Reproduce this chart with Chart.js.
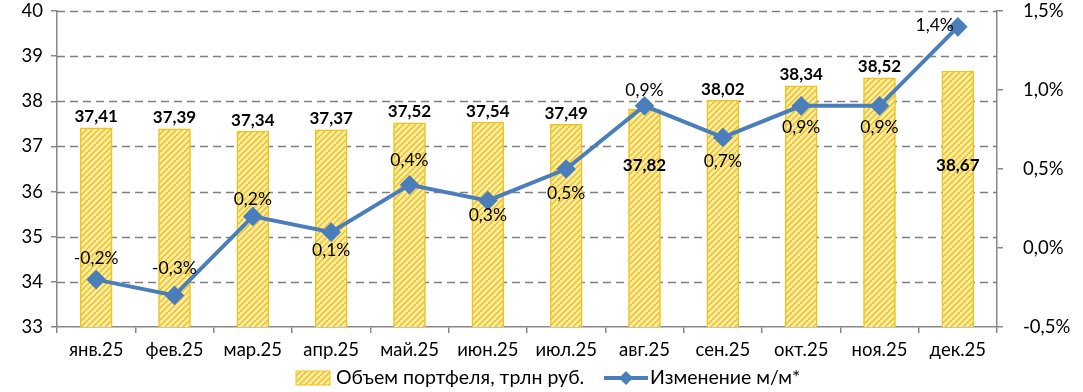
<!DOCTYPE html>
<html>
<head>
<meta charset="utf-8">
<script src="https://cdn.jsdelivr.net/npm/chart.js@4.4.1/dist/chart.umd.min.js"></script>
<style>
    html, body { margin: 0; padding: 0; background: #fff; }
    #wrap { width: 1083px; height: 392px; }
</style>
</head>
<body>
<div id="wrap"><canvas id="myChart" width="1083" height="392"></canvas></div>
<script>
//============================
//  Data
//============================
const months = ["янв.25", "фев.25", "мар.25", "апр.25", "май.25", "июн.25",
    "июл.25", "авг.25", "сен.25", "окт.25", "ноя.25", "дек.25"];
const portfolio = [37.41, 37.39, 37.34, 37.37, 37.52, 37.54, 37.49, 37.82, 38.02, 38.34, 38.52, 38.67];
const changeMoM = [-0.2, -0.3, 0.2, 0.1, 0.4, 0.3, 0.5, 0.9, 0.7, 0.9, 0.9, 1.4];
const leftTicks = [33, 34, 35, 36, 37, 38, 39, 40];
const rightTicks = [-0.5, 0.0, 0.5, 1.0, 1.5];
const seriesNames = ["Объем портфеля, трлн руб.", "Изменение м/м*"];

// where the labels go (layout only)
const barLabelPos = ["top", "top", "top", "top", "top", "top", "top", "in", "top", "top", "top", "in"];
const lineLabelPos = [-21, -27, -17, 18, -24, 15, 24, -15, 24, 22, 22, "left"];

const FONT = "Lato, 'Noto Sans', sans-serif";
const fmt = (v, d) => v.toFixed(d).replace(".", ",");

// hatched yellow fill
function makeHatch() {
    const c = document.createElement("canvas");
    c.width = 6; c.height = 6;
    const g = c.getContext("2d");
    g.fillStyle = "#fcec9c";
    g.fillRect(0, 0, 6, 6);
    g.strokeStyle = "#e6be2a";
    g.lineWidth = 1.3;
    g.beginPath();
    g.moveTo(0, 6); g.lineTo(6, 0);
    g.moveTo(-3, 3); g.lineTo(3, -3);
    g.moveTo(3, 9); g.lineTo(9, 3);
    g.stroke();
    return g.createPattern(c, "repeat");
}
const hatch = makeHatch();

// no extra room for tick label overflow, the area is fixed
function fixPadding(s) {
    s.paddingTop = 0;
    s.paddingBottom = 0;
}

//============================
//  Labels + legend plugin
//============================
const labelPlugin = {
    id: "labelPlugin",
    afterDatasetsDraw(chart) {
        const ctx = chart.ctx;
        const yL = chart.scales.y;
        const barMeta = chart.getDatasetMeta(0);
        const lineMeta = chart.getDatasetMeta(1);
        ctx.save();
        ctx.textAlign = "center";
        ctx.textBaseline = "middle";
        ctx.fillStyle = "#000";

        // bar values
        ctx.font = "bold 17px " + FONT;
        barMeta.data.forEach((bar, i) => {
            let y = bar.y - 11;
            if (barLabelPos[i] === "in") y = yL.getPixelForValue(36.58);
            ctx.fillText(fmt(portfolio[i], 2), bar.x, y);
        });

        // line values
        ctx.font = "17.5px " + FONT;
        lineMeta.data.forEach((pt, i) => {
            const p = lineLabelPos[i];
            const txt = fmt(changeMoM[i], 1) + "%";
            if (p === "left") {
                ctx.textAlign = "right";
                ctx.fillText(txt, pt.x - 4, pt.y - 1);
                ctx.textAlign = "center";
            } else {
                ctx.fillText(txt, pt.x, pt.y + p);
            }
        });

        // legend
        const ly = 378;
        ctx.font = "19.5px " + FONT;
        ctx.fillStyle = hatch;
        ctx.fillRect(296, ly - 7, 34, 14);
        ctx.strokeStyle = "#f0c419";
        ctx.lineWidth = 1;
        ctx.strokeRect(296, ly - 7, 34, 14);
        ctx.fillStyle = "#000";
        ctx.textAlign = "left";
        ctx.fillText(seriesNames[0], 336, ly);

        ctx.strokeStyle = "#4a7ebb";
        ctx.lineWidth = 4;
        ctx.beginPath();
        ctx.moveTo(604, ly); ctx.lineTo(648, ly);
        ctx.stroke();
        ctx.fillStyle = "#4a7ebb";
        ctx.beginPath();
        ctx.moveTo(626, ly - 7); ctx.lineTo(633, ly); ctx.lineTo(626, ly + 7); ctx.lineTo(619, ly);
        ctx.closePath();
        ctx.fill();
        ctx.fillStyle = "#000";
        ctx.fillText(seriesNames[1], 650, ly);
        ctx.restore();
    }
};

//============================
//  Chart
//============================
const ctx = document.getElementById("myChart").getContext("2d");
new Chart(ctx, {
    type: "bar",
    data: {
        labels: months,
        datasets: [{
            label: seriesNames[0],
            data: portfolio,
            backgroundColor: hatch,
            borderColor: "#f0c419",
            borderWidth: 1.5,
            barThickness: 32,
            yAxisID: "y",
            order: 2
        }, {
            type: "line",
            label: seriesNames[1],
            data: changeMoM,
            borderColor: "#4a7ebb",
            backgroundColor: "#4a7ebb",
            borderWidth: 4,
            pointStyle: "rectRot",
            pointRadius: 7,
            pointHoverRadius: 7,
            tension: 0,
            yAxisID: "y1",
            order: 1
        }]
    },
    options: {
        responsive: false,
        animation: false,
        layout: { padding: { top: 10, bottom: 25, left: 0, right: 0 } },
        plugins: {
            legend: { display: false },
            tooltip: { enabled: false }
        },
        scales: {
            x: {
                grid: {
                    drawOnChartArea: false,
                    offset: true,
                    tickLength: 6,
                    color: "#888",
                    lineWidth: 1.5
                },
                border: { color: "#888", width: 1.5 },
                ticks: { color: "#000", font: { size: 18.5, family: FONT }, padding: 6 },
                afterFit(s) { s.height = 40; }
            },
            y: {
                position: "left",
                min: 33,
                max: 40,
                afterBuildTicks(s) { s.ticks = leftTicks.map(v => ({ value: v })); },
                grid: {
                    drawOnChartArea: false,
                    color: "#888",
                    lineWidth: 1.5,
                    tickLength: 6,
                    tickColor: "#888"
                },
                border: { color: "#888", width: 1.5 },
                ticks: { color: "#000", font: { size: 18.5, family: FONT }, padding: 8 },
                afterFit(s) { s.width = 57; fixPadding(s); }
            },
            y1: {
                position: "right",
                min: -0.5,
                max: 1.5,
                afterBuildTicks(s) { s.ticks = rightTicks.map(v => ({ value: v })); },
                grid: { drawOnChartArea: false, tickLength: 6, tickColor: "#888", lineWidth: 1.5 },
                border: { color: "#888", width: 1.5 },
                ticks: {
                    color: "#000",
                    font: { size: 18.5, family: FONT },
                    padding: 20,
                    callback: v => fmt(v, 1) + "%"
                },
                afterFit(s) { s.width = 86; fixPadding(s); }
            }
        }
    },
    plugins: [labelPlugin, {
        // dashed horizontal gridlines
        id: "dashGrid",
        beforeDatasetsDraw(chart) {
            const c = chart.ctx, a = chart.chartArea, y = chart.scales.y;
            c.save();
            c.strokeStyle = "#7f7f7f";
            c.lineWidth = 1.5;
            c.setLineDash([8, 5]);
            leftTicks.forEach(v => {
                if (v === 33) return;
                const py = Math.round(y.getPixelForValue(v)) + 0.5;
                c.beginPath();
                c.moveTo(a.left, py); c.lineTo(a.right, py);
                c.stroke();
            });
            c.restore();
        }
    }]
});
</script>
</body>
</html>
